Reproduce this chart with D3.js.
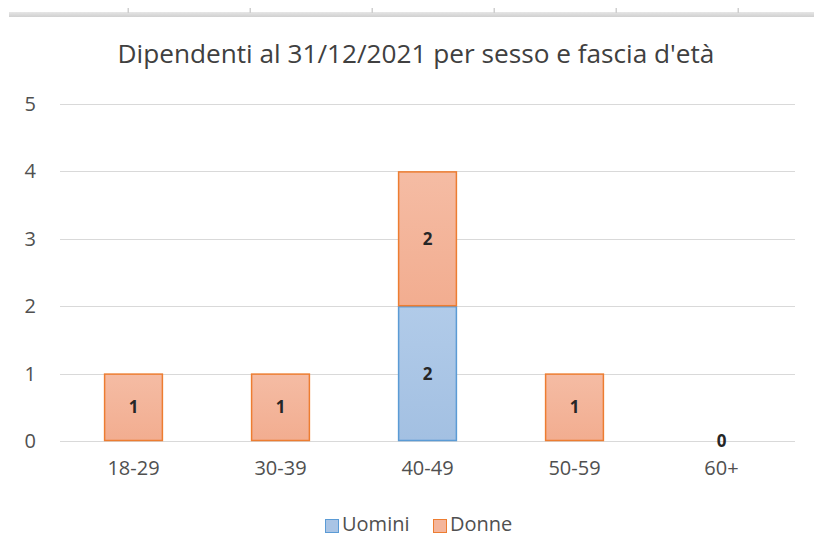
<!doctype html>
<html>
<head>
<meta charset="utf-8">
<title>Dipendenti</title>
<script src="https://cdn.jsdelivr.net/npm/d3@7"></script>
<style>
    body { margin: 0; background: #fff; }
    svg text { font-family: "Open Sans", "Noto Sans", sans-serif; fill: #505050; }
    .grid line { stroke: #d9d9d9; stroke-width: 1; shape-rendering: crispEdges; }
    .domain { display: none; }
    .tick line { display: none; }
    .lbl { font-weight: bold; fill: #262626; font-size: 17px; }
</style>
</head>
<body>
<div id="chart"></div>
<script>
// Data
var categories = ["18-29", "30-39", "40-49", "50-59", "60+"];
var seriesNames = ["Uomini", "Donne"];
var uomini = [0, 0, 2, 0, 0];
var donne = [1, 1, 2, 1, 0];
var yTicks = [0, 1, 2, 3, 4, 5];

var W = 814, H = 558;
var margin = { top: 104, right: 19, bottom: 117, left: 60 };
var width = W - margin.left - margin.right,
    height = H - margin.top - margin.bottom;

var colors = {
    Uomini: { fill: "url(#gBlue)", stroke: "#5b9bd5", key: "#a9c4e5" },
    Donne: { fill: "url(#gOrange)", stroke: "#ed7d31", key: "#f4b59b" }
};

var svg = d3.select("#chart").append("svg")
    .attr("width", W)
    .attr("height", H);

// gradients like the spreadsheet fill
var defs = svg.append("defs");
function grad(id, c1, c2) {
    var g = defs.append("linearGradient").attr("id", id)
        .attr("x1", 0).attr("y1", 0).attr("x2", 0).attr("y2", 1);
    g.append("stop").attr("offset", "0%").attr("stop-color", c1);
    g.append("stop").attr("offset", "100%").attr("stop-color", c2);
}
grad("gBlue", "#b1cbe9", "#a3c0e2");
grad("gOrange", "#f5bca4", "#f2ad90");
grad("gBand", "#e6e6e6", "#d0d0d0");

// faint sheet border at the top
svg.append("rect")
    .attr("x", 9).attr("y", 12)
    .attr("width", W - 9).attr("height", 5)
    .attr("fill", "url(#gBand)");
[128, 250, 372, 494, 616, 738].forEach(function(x) {
    svg.append("rect").attr("x", x - 0.5).attr("y", 8)
        .attr("width", 1.5).attr("height", 5).attr("fill", "#cfcfcf");
});

// title
svg.append("text")
    .attr("x", 416)
    .attr("y", 63)
    .attr("text-anchor", "middle")
    .style("font-size", "26.2px")
    .style("fill", "#404040")
    .text("Dipendenti al 31/12/2021 per sesso e fascia d'età");

var g = svg.append("g")
    .attr("transform", "translate(" + margin.left + "," + margin.top + ")");

var x = d3.scaleBand().domain(categories).range([0, width])
    .paddingInner(0.6).paddingOuter(0.3);
var y = d3.scaleLinear().domain([0, 5]).range([height, 0]);

// gridlines
g.append("g").attr("class", "grid")
    .selectAll("line")
    .data(yTicks)
    .enter().append("line")
    .attr("x1", 0).attr("x2", width)
    .attr("y1", function(d) { return Math.round(y(d)) + 0.5; })
    .attr("y2", function(d) { return Math.round(y(d)) + 0.5; });

// y axis labels
g.append("g")
    .call(d3.axisLeft(y).tickValues(yTicks).tickFormat(d3.format("d")).tickSize(0).tickPadding(24))
    .selectAll("text")
    .style("font-size", "20px")
    .attr("fill", null);

// x axis labels
g.append("g")
    .attr("transform", "translate(0," + height + ")")
    .call(d3.axisBottom(x).tickSize(0).tickPadding(20))
    .selectAll("text")
    .style("font-size", "20px")
    .attr("fill", null);

// stack
var rows = categories.map(function(c, i) {
    return { cat: c, Uomini: uomini[i], Donne: donne[i] };
});
var stack = d3.stack().keys(seriesNames)(rows);

stack.forEach(function(layer) {
    var key = layer.key;
    var layerG = g.append("g");
    layerG.selectAll("rect")
        .data(layer.filter(function(d) { return d[1] - d[0] > 0; }))
        .enter().append("rect")
        .attr("x", function(d) { return x(d.data.cat) + 0.5; })
        .attr("y", function(d) { return y(d[1]) + 0.5; })
        .attr("width", x.bandwidth() - 1)
        .attr("height", function(d) { return y(d[0]) - y(d[1]) - 1; })
        .attr("fill", colors[key].fill)
        .attr("stroke", colors[key].stroke)
        .attr("stroke-width", 1.5);

    layerG.selectAll("text")
        .data(layer.filter(function(d) { return d[1] - d[0] > 0; }))
        .enter().append("text")
        .attr("class", "lbl")
        .attr("x", function(d) { return x(d.data.cat) + x.bandwidth() / 2; })
        .attr("y", function(d) { return y((d[0] + d[1]) / 2); })
        .attr("dy", "0.36em")
        .attr("text-anchor", "middle")
        .text(function(d) { return d[1] - d[0]; });
});

// zero label for empty categories
g.append("g").selectAll("text")
    .data(rows.filter(function(r) { return r.Uomini + r.Donne === 0; }))
    .enter().append("text")
    .attr("class", "lbl")
    .attr("x", function(d) { return x(d.cat) + x.bandwidth() / 2; })
    .attr("y", y(0))
    .attr("dy", "0.36em")
    .attr("text-anchor", "middle")
    .text("0");

// legend
var legend = svg.append("g");
var legendX = [325, 433];
seriesNames.forEach(function(name, i) {
    var lg = legend.append("g").attr("transform", "translate(" + legendX[i] + ",519)");
    lg.append("rect")
        .attr("x", 0.5).attr("y", 0.5)
        .attr("width", 13).attr("height", 13)
        .attr("fill", colors[name].key)
        .attr("stroke", colors[name].stroke)
        .attr("stroke-width", 1);
    lg.append("text")
        .attr("x", 17).attr("y", 5)
        .attr("dy", "0.36em")
        .style("font-size", "20px")
        .text(name);
});
</script>
</body>
</html>
